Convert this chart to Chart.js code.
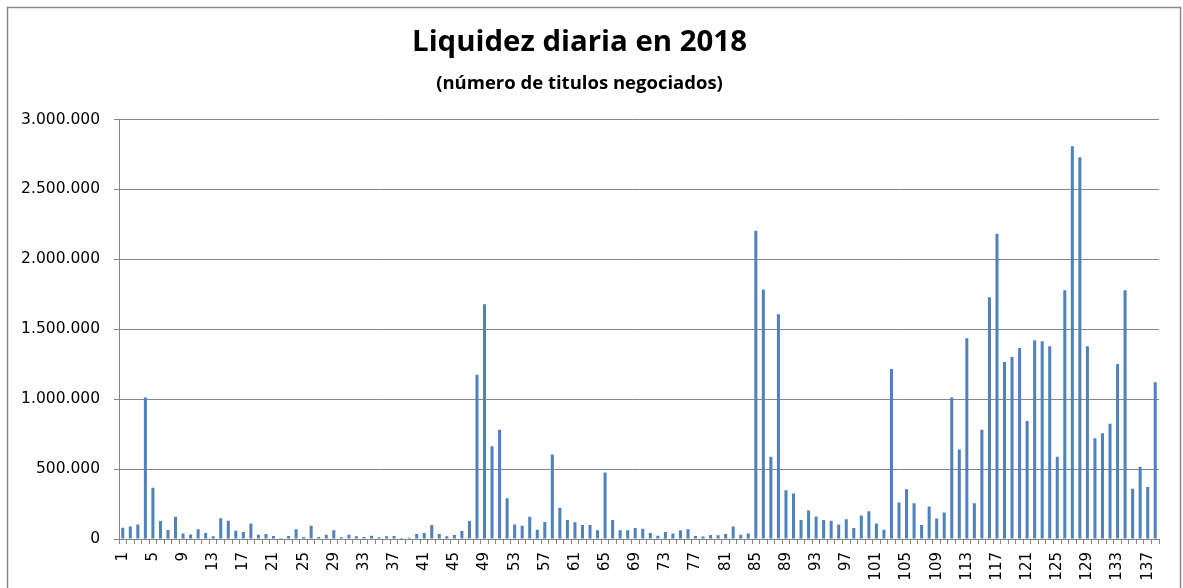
<!DOCTYPE html>
<html>
<head>
<meta charset="utf-8">
<script src="https://cdn.jsdelivr.net/npm/chart.js@4"></script>
<style>
  html, body { margin: 0; padding: 0; background: #fff; }
  #wrap { width: 1183px; height: 588px; }
</style>
</head>
<body>
<div id="wrap"><canvas id="myChart" width="1183" height="588"></canvas></div>
<script>
const titleText = 'Liquidez diaria en 2018';
const subtitleText = '(número de titulos negociados)';

// trading days 1..138
const days = [];
for (let i = 1; i <= 138; i++) days.push(String(i));

// titles traded per day
const volumes = [
  80000, 90000, 104000, 1012000, 367000, 128000, 64000, 159000, 40000, 33000,
  69000, 43000, 19000, 149000, 130000, 59000, 50000, 111000, 31000, 36000,
  21000, 7000, 21000, 69000, 14000, 95000, 14000, 31000, 62000, 12000,
  31000, 19000, 14000, 24000, 12000, 19000, 21000, 7000, 9000, 36000,
  43000, 100000, 36000, 19000, 28000, 57000, 128000, 1175000, 1678000, 664000,
  782000, 292000, 104000, 95000, 159000, 66000, 121000, 604000, 223000, 135000,
  119000, 100000, 100000, 62000, 476000, 135000, 62000, 62000, 78000, 73000,
  43000, 24000, 50000, 40000, 62000, 69000, 21000, 17000, 28000, 26000,
  36000, 90000, 31000, 40000, 2204000, 1785000, 588000, 1607000, 348000, 325000,
  135000, 204000, 161000, 135000, 130000, 104000, 142000, 78000, 168000, 199000,
  111000, 66000, 1216000, 261000, 356000, 256000, 100000, 232000, 147000, 190000,
  1012000, 640000, 1436000, 256000, 782000, 1728000, 2183000, 1266000, 1301000, 1365000,
  844000, 1422000, 1415000, 1379000, 588000, 1778000, 2808000, 2730000, 1379000, 720000,
  756000, 825000, 1251000, 1778000, 360000, 514000, 372000, 1121000
];

const yMin = 0;
const yMax = 3000000;
const yStep = 500000;

const fmt = v => String(v).replace(/\B(?=(\d{3})+(?!\d))/g, '.');

Chart.defaults.font.family = "'DejaVu Sans', sans-serif";

const frame = {
  id: 'frame',
  beforeDraw(chart) {
    const c = chart.ctx;
    c.save();
    c.fillStyle = '#fff';
    c.fillRect(0, 0, chart.width, chart.height);
    c.strokeStyle = '#8a8a8a';
    c.lineWidth = 1.5;
    c.strokeRect(7.5, 7.5, 1173, 620);
    c.restore();
  }
};

const ctx = document.getElementById('myChart');

new Chart(ctx, {
  type: 'bar',
  data: {
    labels: days,
    datasets: [{
      data: volumes,
      backgroundColor: '#4F81BD',
      categoryPercentage: 1,
      barPercentage: 0.4
    }]
  },
  options: {
    responsive: false,
    animation: false,
    layout: { padding: { left: 0, right: 24, top: 0, bottom: 0 } },
    plugins: {
      legend: { display: false },
      tooltip: { enabled: false },
      title: {
        display: true,
        text: titleText,
        color: '#000',
        font: { family: "'Open Sans', sans-serif", size: 29.4, weight: 'bold', lineHeight: 1.2 },
        padding: { top: 25, bottom: 12 }
      },
      subtitle: {
        display: true,
        text: subtitleText,
        color: '#000',
        font: { family: "'Open Sans', sans-serif", size: 18.5, weight: 'bold', lineHeight: 1.2 },
        padding: { top: 0, bottom: 25 }
      }
    },
    scales: {
      x: {
        offset: true,
        grid: {
          offset: true,
          drawOnChartArea: false,
          drawTicks: true,
          tickLength: 5,
          color: '#868686'
        },
        border: { display: true, color: '#868686' },
        ticks: {
          autoSkip: false,
          minRotation: 90,
          maxRotation: 90,
          padding: 8,
          color: '#000',
          font: { family: "'DejaVu Sans', sans-serif", size: 15 },
          callback: (v, i) => (i % 4 === 0 ? days[i] : '')
        },
        afterFit: s => { s.height = 49; }
      },
      y: {
        min: yMin,
        max: yMax,
        grid: {
          color: '#868686',
          drawTicks: true,
          tickLength: 5
        },
        border: { display: true, color: '#868686' },
        ticks: {
          stepSize: yStep,
          padding: 14,
          color: '#000',
          font: { family: "'DejaVu Sans', sans-serif", size: 15.5 },
          callback: v => fmt(v)
        },
        afterFit: s => { s.width = 119; }
      }
    }
  },
  plugins: [frame]
});
</script>
</body>
</html>
